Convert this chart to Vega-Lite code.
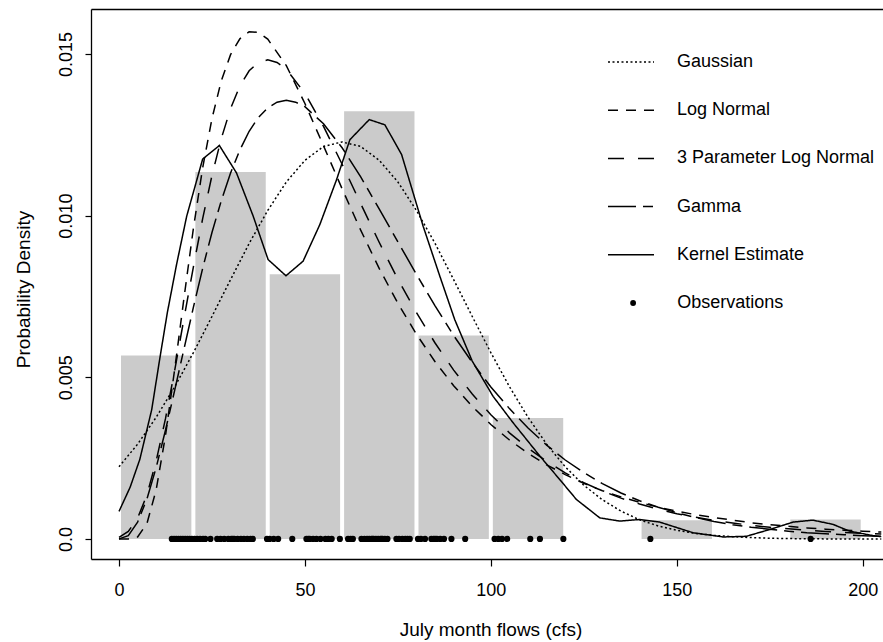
{
  "$schema": "https://vega.github.io/schema/vega-lite/v6.json",
  "width": 792,
  "height": 550,
  "autosize": {"type": "none"},
  "padding": {"left": 91, "top": 9, "right": 0, "bottom": 83},
  "background": "white",
  "config": {
    "view": {"stroke": null},
    "font": "Liberation Sans",
    "axis": {
      "grid": false,
      "domainColor": "black",
      "domainWidth": 1.3,
      "tickColor": "black",
      "tickWidth": 1.2,
      "labelColor": "black",
      "titleColor": "black",
      "labelFont": "Liberation Sans",
      "titleFont": "Liberation Sans",
      "labelFontSize": 18,
      "titleFontSize": 19,
      "titleFontWeight": "normal"
    },
    "axisLeft": {
      "labelExpr": "datum.value === 0 ? '0.0' : format(datum.value, '.3f')",
      "labelAngle": -90,
      "labelAlign": "center",
      "labelBaseline": "alphabetic",
      "tickSize": 6,
      "labelPadding": 13.3,
      "titleAngle": -90,
      "titleX": -62,
      "titleY": 280,
      "titleAlign": "center",
      "titleBaseline": "alphabetic"
    },
    "axisBottom": {
      "tickSize": 7,
      "labelPadding": 29.7,
      "labelBaseline": "alphabetic",
      "titleX": 399.5,
      "titleY": 76.7,
      "titleAlign": "center",
      "titleBaseline": "alphabetic"
    },
    "legend": {
      "labelFont": "Liberation Sans",
      "labelFontSize": 18,
      "labelColor": "black",
      "labelLimit": 400,
      "padding": 0
    }
  },
  "datasets": {
    "bars": [
      {"x": 0, "x_end": 20, "y": 0.00567},
      {"x": 20, "x_end": 40, "y": 0.01135},
      {"x": 40, "x_end": 60, "y": 0.00819},
      {"x": 60, "x_end": 80, "y": 0.01323},
      {"x": 80, "x_end": 100, "y": 0.00629},
      {"x": 100, "x_end": 120, "y": 0.00374},
      {"x": 140, "x_end": 160, "y": 0.00058},
      {"x": 180, "x_end": 200, "y": 0.0006}
    ],
    "curves": [
      {"series": "Gaussian", "x": 0, "y": 0.00223},
      {"series": "Gaussian", "x": 5, "y": 0.00293},
      {"series": "Gaussian", "x": 10, "y": 0.00376},
      {"series": "Gaussian", "x": 15, "y": 0.00471},
      {"series": "Gaussian", "x": 20, "y": 0.00576},
      {"series": "Gaussian", "x": 25, "y": 0.00688},
      {"series": "Gaussian", "x": 30, "y": 0.00802},
      {"series": "Gaussian", "x": 35, "y": 0.00914},
      {"series": "Gaussian", "x": 40, "y": 0.01016},
      {"series": "Gaussian", "x": 45, "y": 0.01104},
      {"series": "Gaussian", "x": 50, "y": 0.01171},
      {"series": "Gaussian", "x": 55, "y": 0.01214},
      {"series": "Gaussian", "x": 60, "y": 0.01228},
      {"series": "Gaussian", "x": 65, "y": 0.01214},
      {"series": "Gaussian", "x": 70, "y": 0.01171},
      {"series": "Gaussian", "x": 75, "y": 0.01104},
      {"series": "Gaussian", "x": 80, "y": 0.01016},
      {"series": "Gaussian", "x": 85, "y": 0.00914},
      {"series": "Gaussian", "x": 90, "y": 0.00802},
      {"series": "Gaussian", "x": 95, "y": 0.00688},
      {"series": "Gaussian", "x": 100, "y": 0.00576},
      {"series": "Gaussian", "x": 105, "y": 0.00471},
      {"series": "Gaussian", "x": 110, "y": 0.00376},
      {"series": "Gaussian", "x": 115, "y": 0.00293},
      {"series": "Gaussian", "x": 120, "y": 0.00223},
      {"series": "Gaussian", "x": 125, "y": 0.00166},
      {"series": "Gaussian", "x": 130, "y": 0.00121},
      {"series": "Gaussian", "x": 135, "y": 0.00086},
      {"series": "Gaussian", "x": 140, "y": 0.00059},
      {"series": "Gaussian", "x": 145, "y": 0.0004},
      {"series": "Gaussian", "x": 150, "y": 0.00027},
      {"series": "Gaussian", "x": 155, "y": 0.00017},
      {"series": "Gaussian", "x": 160, "y": 0.00011},
      {"series": "Gaussian", "x": 165, "y": 0.00007},
      {"series": "Gaussian", "x": 170, "y": 0.00004},
      {"series": "Gaussian", "x": 175, "y": 0.00002},
      {"series": "Gaussian", "x": 180, "y": 0.00001},
      {"series": "Gaussian", "x": 190, "y": 0},
      {"series": "Gaussian", "x": 205, "y": 0},
      {"series": "Log Normal", "x": 0, "y": 0},
      {"series": "Log Normal", "x": 2.5, "y": 0},
      {"series": "Log Normal", "x": 5, "y": 0.00006},
      {"series": "Log Normal", "x": 7.5, "y": 0.00047},
      {"series": "Log Normal", "x": 10, "y": 0.00152},
      {"series": "Log Normal", "x": 12.5, "y": 0.00319},
      {"series": "Log Normal", "x": 15, "y": 0.00527},
      {"series": "Log Normal", "x": 17.5, "y": 0.00747},
      {"series": "Log Normal", "x": 20, "y": 0.0096},
      {"series": "Log Normal", "x": 22.5, "y": 0.01148},
      {"series": "Log Normal", "x": 25, "y": 0.013},
      {"series": "Log Normal", "x": 27.5, "y": 0.01417},
      {"series": "Log Normal", "x": 30, "y": 0.01498},
      {"series": "Log Normal", "x": 32.5, "y": 0.01547},
      {"series": "Log Normal", "x": 35, "y": 0.01569},
      {"series": "Log Normal", "x": 37.5, "y": 0.01567},
      {"series": "Log Normal", "x": 40, "y": 0.01546},
      {"series": "Log Normal", "x": 45, "y": 0.01464},
      {"series": "Log Normal", "x": 50, "y": 0.01347},
      {"series": "Log Normal", "x": 55, "y": 0.01216},
      {"series": "Log Normal", "x": 60, "y": 0.01083},
      {"series": "Log Normal", "x": 65, "y": 0.00955},
      {"series": "Log Normal", "x": 70, "y": 0.00836},
      {"series": "Log Normal", "x": 75, "y": 0.00729},
      {"series": "Log Normal", "x": 80, "y": 0.00633},
      {"series": "Log Normal", "x": 85, "y": 0.00548},
      {"series": "Log Normal", "x": 90, "y": 0.00474},
      {"series": "Log Normal", "x": 95, "y": 0.0041},
      {"series": "Log Normal", "x": 100, "y": 0.00354},
      {"series": "Log Normal", "x": 105, "y": 0.00306},
      {"series": "Log Normal", "x": 110, "y": 0.00265},
      {"series": "Log Normal", "x": 115, "y": 0.00229},
      {"series": "Log Normal", "x": 120, "y": 0.00199},
      {"series": "Log Normal", "x": 125, "y": 0.00172},
      {"series": "Log Normal", "x": 130, "y": 0.00149},
      {"series": "Log Normal", "x": 135, "y": 0.0013},
      {"series": "Log Normal", "x": 140, "y": 0.00113},
      {"series": "Log Normal", "x": 145, "y": 0.00098},
      {"series": "Log Normal", "x": 150, "y": 0.00086},
      {"series": "Log Normal", "x": 155, "y": 0.00075},
      {"series": "Log Normal", "x": 160, "y": 0.00066},
      {"series": "Log Normal", "x": 165, "y": 0.00058},
      {"series": "Log Normal", "x": 170, "y": 0.0005},
      {"series": "Log Normal", "x": 175, "y": 0.00044},
      {"series": "Log Normal", "x": 180, "y": 0.00039},
      {"series": "Log Normal", "x": 185, "y": 0.00034},
      {"series": "Log Normal", "x": 190, "y": 0.0003},
      {"series": "Log Normal", "x": 195, "y": 0.00027},
      {"series": "Log Normal", "x": 200, "y": 0.00024},
      {"series": "Log Normal", "x": 205, "y": 0.00021},
      {"series": "3 Parameter Log Normal", "x": 0, "y": 0.00005},
      {"series": "3 Parameter Log Normal", "x": 2.5, "y": 0.00023},
      {"series": "3 Parameter Log Normal", "x": 5, "y": 0.00064},
      {"series": "3 Parameter Log Normal", "x": 7.5, "y": 0.00136},
      {"series": "3 Parameter Log Normal", "x": 10, "y": 0.00241},
      {"series": "3 Parameter Log Normal", "x": 12.5, "y": 0.00372},
      {"series": "3 Parameter Log Normal", "x": 15, "y": 0.00523},
      {"series": "3 Parameter Log Normal", "x": 17.5, "y": 0.00683},
      {"series": "3 Parameter Log Normal", "x": 20, "y": 0.00841},
      {"series": "3 Parameter Log Normal", "x": 22.5, "y": 0.00991},
      {"series": "3 Parameter Log Normal", "x": 25, "y": 0.01124},
      {"series": "3 Parameter Log Normal", "x": 27.5, "y": 0.01238},
      {"series": "3 Parameter Log Normal", "x": 30, "y": 0.01331},
      {"series": "3 Parameter Log Normal", "x": 32.5, "y": 0.01401},
      {"series": "3 Parameter Log Normal", "x": 35, "y": 0.01448},
      {"series": "3 Parameter Log Normal", "x": 37.5, "y": 0.01474},
      {"series": "3 Parameter Log Normal", "x": 40, "y": 0.01482},
      {"series": "3 Parameter Log Normal", "x": 42.5, "y": 0.01474},
      {"series": "3 Parameter Log Normal", "x": 45, "y": 0.01453},
      {"series": "3 Parameter Log Normal", "x": 50, "y": 0.01378},
      {"series": "3 Parameter Log Normal", "x": 55, "y": 0.01276},
      {"series": "3 Parameter Log Normal", "x": 60, "y": 0.01159},
      {"series": "3 Parameter Log Normal", "x": 65, "y": 0.01037},
      {"series": "3 Parameter Log Normal", "x": 70, "y": 0.00917},
      {"series": "3 Parameter Log Normal", "x": 75, "y": 0.00803},
      {"series": "3 Parameter Log Normal", "x": 80, "y": 0.007},
      {"series": "3 Parameter Log Normal", "x": 85, "y": 0.00606},
      {"series": "3 Parameter Log Normal", "x": 90, "y": 0.00522},
      {"series": "3 Parameter Log Normal", "x": 95, "y": 0.00448},
      {"series": "3 Parameter Log Normal", "x": 100, "y": 0.00384},
      {"series": "3 Parameter Log Normal", "x": 105, "y": 0.00328},
      {"series": "3 Parameter Log Normal", "x": 110, "y": 0.00281},
      {"series": "3 Parameter Log Normal", "x": 115, "y": 0.0024},
      {"series": "3 Parameter Log Normal", "x": 120, "y": 0.00204},
      {"series": "3 Parameter Log Normal", "x": 125, "y": 0.00174},
      {"series": "3 Parameter Log Normal", "x": 130, "y": 0.00148},
      {"series": "3 Parameter Log Normal", "x": 135, "y": 0.00126},
      {"series": "3 Parameter Log Normal", "x": 140, "y": 0.00108},
      {"series": "3 Parameter Log Normal", "x": 145, "y": 0.00092},
      {"series": "3 Parameter Log Normal", "x": 150, "y": 0.00078},
      {"series": "3 Parameter Log Normal", "x": 155, "y": 0.00067},
      {"series": "3 Parameter Log Normal", "x": 160, "y": 0.00057},
      {"series": "3 Parameter Log Normal", "x": 165, "y": 0.00049},
      {"series": "3 Parameter Log Normal", "x": 170, "y": 0.00042},
      {"series": "3 Parameter Log Normal", "x": 175, "y": 0.00036},
      {"series": "3 Parameter Log Normal", "x": 180, "y": 0.00031},
      {"series": "3 Parameter Log Normal", "x": 185, "y": 0.00027},
      {"series": "3 Parameter Log Normal", "x": 190, "y": 0.00023},
      {"series": "3 Parameter Log Normal", "x": 195, "y": 0.0002},
      {"series": "3 Parameter Log Normal", "x": 200, "y": 0.00017},
      {"series": "3 Parameter Log Normal", "x": 205, "y": 0.00015},
      {"series": "Gamma", "x": 0, "y": 0},
      {"series": "Gamma", "x": 2.5, "y": 0.0001},
      {"series": "Gamma", "x": 5, "y": 0.00052},
      {"series": "Gamma", "x": 7.5, "y": 0.00123},
      {"series": "Gamma", "x": 10, "y": 0.00221},
      {"series": "Gamma", "x": 12.5, "y": 0.00336},
      {"series": "Gamma", "x": 15, "y": 0.00461},
      {"series": "Gamma", "x": 17.5, "y": 0.00589},
      {"series": "Gamma", "x": 20, "y": 0.00716},
      {"series": "Gamma", "x": 22.5, "y": 0.00837},
      {"series": "Gamma", "x": 25, "y": 0.00948},
      {"series": "Gamma", "x": 27.5, "y": 0.01046},
      {"series": "Gamma", "x": 30, "y": 0.01132},
      {"series": "Gamma", "x": 32.5, "y": 0.01203},
      {"series": "Gamma", "x": 35, "y": 0.01261},
      {"series": "Gamma", "x": 37.5, "y": 0.01304},
      {"series": "Gamma", "x": 40, "y": 0.01333},
      {"series": "Gamma", "x": 42.5, "y": 0.01351},
      {"series": "Gamma", "x": 45, "y": 0.01357},
      {"series": "Gamma", "x": 47.5, "y": 0.01351},
      {"series": "Gamma", "x": 50, "y": 0.01337},
      {"series": "Gamma", "x": 55, "y": 0.01284},
      {"series": "Gamma", "x": 60, "y": 0.0121},
      {"series": "Gamma", "x": 65, "y": 0.0112},
      {"series": "Gamma", "x": 70, "y": 0.0102},
      {"series": "Gamma", "x": 75, "y": 0.00919},
      {"series": "Gamma", "x": 80, "y": 0.00818},
      {"series": "Gamma", "x": 85, "y": 0.00721},
      {"series": "Gamma", "x": 90, "y": 0.00629},
      {"series": "Gamma", "x": 95, "y": 0.00546},
      {"series": "Gamma", "x": 100, "y": 0.0047},
      {"series": "Gamma", "x": 105, "y": 0.00403},
      {"series": "Gamma", "x": 110, "y": 0.00343},
      {"series": "Gamma", "x": 115, "y": 0.0029},
      {"series": "Gamma", "x": 120, "y": 0.00244},
      {"series": "Gamma", "x": 125, "y": 0.00205},
      {"series": "Gamma", "x": 130, "y": 0.00171},
      {"series": "Gamma", "x": 135, "y": 0.00142},
      {"series": "Gamma", "x": 140, "y": 0.00118},
      {"series": "Gamma", "x": 145, "y": 0.00098},
      {"series": "Gamma", "x": 150, "y": 0.00081},
      {"series": "Gamma", "x": 155, "y": 0.00066},
      {"series": "Gamma", "x": 160, "y": 0.00054},
      {"series": "Gamma", "x": 165, "y": 0.00044},
      {"series": "Gamma", "x": 170, "y": 0.00036},
      {"series": "Gamma", "x": 175, "y": 0.0003},
      {"series": "Gamma", "x": 180, "y": 0.00024},
      {"series": "Gamma", "x": 185, "y": 0.00019},
      {"series": "Gamma", "x": 190, "y": 0.00016},
      {"series": "Gamma", "x": 195, "y": 0.00013},
      {"series": "Gamma", "x": 200, "y": 0.0001},
      {"series": "Gamma", "x": 205, "y": 0.00008},
      {"series": "Kernel Estimate", "x": 0, "y": 0.00085},
      {"series": "Kernel Estimate", "x": 3, "y": 0.0016},
      {"series": "Kernel Estimate", "x": 5.6, "y": 0.00246},
      {"series": "Kernel Estimate", "x": 8.8, "y": 0.004},
      {"series": "Kernel Estimate", "x": 11, "y": 0.0056},
      {"series": "Kernel Estimate", "x": 13, "y": 0.007},
      {"series": "Kernel Estimate", "x": 15.5, "y": 0.0085},
      {"series": "Kernel Estimate", "x": 18.2, "y": 0.00998},
      {"series": "Kernel Estimate", "x": 22.5, "y": 0.01175},
      {"series": "Kernel Estimate", "x": 27, "y": 0.01217},
      {"series": "Kernel Estimate", "x": 31.6, "y": 0.01132},
      {"series": "Kernel Estimate", "x": 36.1, "y": 0.00998},
      {"series": "Kernel Estimate", "x": 40.1, "y": 0.00864},
      {"series": "Kernel Estimate", "x": 44.9, "y": 0.00814},
      {"series": "Kernel Estimate", "x": 49.5, "y": 0.00859},
      {"series": "Kernel Estimate", "x": 54, "y": 0.00972},
      {"series": "Kernel Estimate", "x": 58.5, "y": 0.01111},
      {"series": "Kernel Estimate", "x": 62.1, "y": 0.01235},
      {"series": "Kernel Estimate", "x": 67.3, "y": 0.01297},
      {"series": "Kernel Estimate", "x": 71.5, "y": 0.01281},
      {"series": "Kernel Estimate", "x": 76, "y": 0.01189},
      {"series": "Kernel Estimate", "x": 81.8, "y": 0.00967},
      {"series": "Kernel Estimate", "x": 86.3, "y": 0.00812},
      {"series": "Kernel Estimate", "x": 90.3, "y": 0.00678},
      {"series": "Kernel Estimate", "x": 95, "y": 0.0055},
      {"series": "Kernel Estimate", "x": 100.6, "y": 0.00441},
      {"series": "Kernel Estimate", "x": 106, "y": 0.00359},
      {"series": "Kernel Estimate", "x": 113.2, "y": 0.00256},
      {"series": "Kernel Estimate", "x": 118.5, "y": 0.00184},
      {"series": "Kernel Estimate", "x": 123, "y": 0.00122},
      {"series": "Kernel Estimate", "x": 129.3, "y": 0.00065},
      {"series": "Kernel Estimate", "x": 134.7, "y": 0.00055},
      {"series": "Kernel Estimate", "x": 140, "y": 0.0006},
      {"series": "Kernel Estimate", "x": 145.4, "y": 0.00052},
      {"series": "Kernel Estimate", "x": 150, "y": 0.00035},
      {"series": "Kernel Estimate", "x": 154.4, "y": 0.00019},
      {"series": "Kernel Estimate", "x": 162.5, "y": 0.00006},
      {"series": "Kernel Estimate", "x": 168.7, "y": 0.00008},
      {"series": "Kernel Estimate", "x": 175, "y": 0.00029},
      {"series": "Kernel Estimate", "x": 181.3, "y": 0.00052},
      {"series": "Kernel Estimate", "x": 186.6, "y": 0.00058},
      {"series": "Kernel Estimate", "x": 192, "y": 0.00045},
      {"series": "Kernel Estimate", "x": 196.5, "y": 0.00024},
      {"series": "Kernel Estimate", "x": 202.8, "y": 0.0001},
      {"series": "Kernel Estimate", "x": 205, "y": 0.00007}
    ],
    "obs": [
      {"x": 14.2, "kind": "Observations"}, {"x": 14.8, "kind": "Observations"}, {"x": 15.4, "kind": "Observations"},
      {"x": 16.0, "kind": "Observations"}, {"x": 16.6, "kind": "Observations"}, {"x": 17.2, "kind": "Observations"},
      {"x": 17.8, "kind": "Observations"}, {"x": 18.4, "kind": "Observations"}, {"x": 19.0, "kind": "Observations"},
      {"x": 19.6, "kind": "Observations"}, {"x": 20.3, "kind": "Observations"}, {"x": 21.0, "kind": "Observations"},
      {"x": 21.8, "kind": "Observations"}, {"x": 22.6, "kind": "Observations"}, {"x": 23.2, "kind": "Observations"},
      {"x": 24.6, "kind": "Observations"}, {"x": 26.4, "kind": "Observations"}, {"x": 27.3, "kind": "Observations"},
      {"x": 28.3, "kind": "Observations"}, {"x": 29.4, "kind": "Observations"}, {"x": 30.2, "kind": "Observations"},
      {"x": 30.6, "kind": "Observations"}, {"x": 31.0, "kind": "Observations"}, {"x": 31.9, "kind": "Observations"},
      {"x": 32.8, "kind": "Observations"}, {"x": 33.6, "kind": "Observations"}, {"x": 34.5, "kind": "Observations"},
      {"x": 35.4, "kind": "Observations"}, {"x": 36.0, "kind": "Observations"}, {"x": 39.8, "kind": "Observations"},
      {"x": 40.5, "kind": "Observations"}, {"x": 41.6, "kind": "Observations"}, {"x": 42.8, "kind": "Observations"},
      {"x": 46.6, "kind": "Observations"}, {"x": 50.4, "kind": "Observations"}, {"x": 50.9, "kind": "Observations"},
      {"x": 51.3, "kind": "Observations"}, {"x": 52.2, "kind": "Observations"}, {"x": 53.1, "kind": "Observations"},
      {"x": 54.2, "kind": "Observations"}, {"x": 55.5, "kind": "Observations"}, {"x": 56.3, "kind": "Observations"},
      {"x": 57.2, "kind": "Observations"}, {"x": 59.4, "kind": "Observations"}, {"x": 61.6, "kind": "Observations"},
      {"x": 62.3, "kind": "Observations"}, {"x": 62.9, "kind": "Observations"}, {"x": 65.2, "kind": "Observations"},
      {"x": 66.0, "kind": "Observations"}, {"x": 66.7, "kind": "Observations"}, {"x": 67.3, "kind": "Observations"},
      {"x": 67.9, "kind": "Observations"}, {"x": 68.2, "kind": "Observations"}, {"x": 68.5, "kind": "Observations"},
      {"x": 69.1, "kind": "Observations"}, {"x": 69.7, "kind": "Observations"}, {"x": 70.3, "kind": "Observations"},
      {"x": 70.6, "kind": "Observations"}, {"x": 70.9, "kind": "Observations"}, {"x": 71.5, "kind": "Observations"},
      {"x": 72.2, "kind": "Observations"}, {"x": 74.6, "kind": "Observations"}, {"x": 75.3, "kind": "Observations"},
      {"x": 76.2, "kind": "Observations"}, {"x": 77.0, "kind": "Observations"}, {"x": 77.6, "kind": "Observations"},
      {"x": 78.2, "kind": "Observations"}, {"x": 80.4, "kind": "Observations"}, {"x": 81.2, "kind": "Observations"},
      {"x": 82.3, "kind": "Observations"}, {"x": 84.0, "kind": "Observations"}, {"x": 84.6, "kind": "Observations"},
      {"x": 85.0, "kind": "Observations"}, {"x": 85.5, "kind": "Observations"}, {"x": 86.4, "kind": "Observations"},
      {"x": 87.4, "kind": "Observations"}, {"x": 89.4, "kind": "Observations"}, {"x": 93.1, "kind": "Observations"},
      {"x": 101.0, "kind": "Observations"}, {"x": 102.0, "kind": "Observations"}, {"x": 103.0, "kind": "Observations"},
      {"x": 104.4, "kind": "Observations"}, {"x": 110.6, "kind": "Observations"}, {"x": 113.2, "kind": "Observations"},
      {"x": 119.5, "kind": "Observations"}, {"x": 142.9, "kind": "Observations"}, {"x": 186.0, "kind": "Observations"}
    ]
  },
  "resolve": {"axis": {"x": "independent"}},
  "layer": [
    {
      "data": {"name": "bars"},
      "mark": {"type": "bar", "color": "#cbcbcb", "xOffset": 2, "x2Offset": -2},
      "encoding": {
        "x": {"field": "x", "type": "quantitative", "scale": {"domain": [-7.53, 205.46], "nice": false, "zero": false}, "title": "July month flows (cfs)", "axis": {"orient": "bottom", "values": [0, 50, 100, 150, 200]}},
        "x2": {"field": "x_end"},
        "y": {"field": "y", "type": "quantitative", "scale": {"domain": [-0.000622, 0.016392], "nice": false, "zero": false}, "title": "Probability Density", "axis": {"values": [0, 0.005, 0.01, 0.015]}},
        "y2": {"datum": 0}
      }
    },
    {
      "data": {"name": "curves"},
      "mark": {"type": "line", "color": "black", "strokeWidth": 1.5, "clip": true},
      "encoding": {
        "x": {"field": "x", "type": "quantitative", "scale": {"domain": [-7.53, 205.46], "nice": false, "zero": false}, "axis": null},
        "y": {"field": "y", "type": "quantitative", "scale": {"domain": [-0.000622, 0.016392], "nice": false, "zero": false}, "title": "Probability Density", "axis": {"values": [0, 0.005, 0.01, 0.015]}},
        "strokeDash": {
          "field": "series",
          "type": "nominal",
          "scale": {
            "domain": ["Gaussian", "Log Normal", "3 Parameter Log Normal", "Gamma", "Kernel Estimate"],
            "range": [[2, 2.5], [10, 8], [16, 14], [28, 7, 10, 7], [1, 0]]
          },
          "legend": {
            "orient": "none",
            "legendX": 516,
            "legendY": 29,
            "title": null,
            "symbolType": "stroke",
            "symbolSize": 2116,
            "symbolStrokeWidth": 1.5,
            "symbolStrokeColor": "black",
            "labelOffset": 22,
            "rowPadding": 15.2
          }
        }
      }
    },
    {
      "data": {"name": "obs"},
      "mark": {"type": "point", "filled": true, "color": "black", "size": 38, "opacity": 1},
      "encoding": {
        "x": {"field": "x", "type": "quantitative", "scale": {"domain": [-7.53, 205.46], "nice": false, "zero": false}, "axis": {"orient": "top", "labels": false, "ticks": false, "title": null, "domain": true}},
        "y": {"datum": 0, "type": "quantitative", "scale": {"domain": [-0.000622, 0.016392], "nice": false, "zero": false}, "title": "Probability Density", "axis": {"values": [0, 0.005, 0.01, 0.015]}},
        "shape": {
          "field": "kind",
          "type": "nominal",
          "scale": {"range": ["circle"]},
          "legend": {
            "orient": "none",
            "legendX": 533.1,
            "legendY": 285,
            "title": null,
            "symbolSize": 34,
            "symbolFillColor": "black",
            "symbolStrokeColor": "black",
            "symbolStrokeWidth": 0,
            "labelOffset": 35.2
          }
        }
      }
    }
  ]
}
